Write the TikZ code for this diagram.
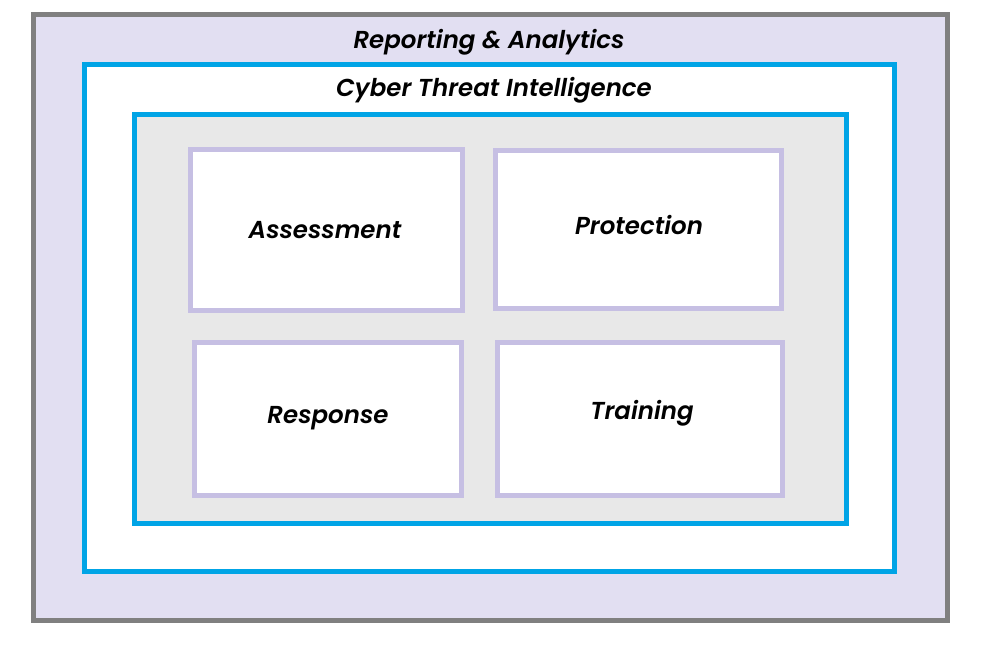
\documentclass[tikz,border=0pt]{standalone}
\usepackage{fontspec}
\setmainfont{Poppins}[ItalicFont=Poppins SemiBold Italic, BoldItalicFont=Poppins Bold Italic]
\definecolor{outerfill}{HTML}{E2DFF2}
\definecolor{outerdraw}{HTML}{808080}
\definecolor{cyan}{HTML}{00A4E6}
\definecolor{innerfill}{HTML}{E8E8E8}
\definecolor{lav}{HTML}{C6BFE3}
\tikzset{
  lbl/.style={font=\fontsize{24.5}{28}\selectfont\itshape, text=black, inner sep=0pt, anchor=base},
  cell/.style={draw=lav, line width=5pt, fill=white}
}
\begin{document}
\begin{tikzpicture}[x=1pt,y=-1pt]
\useasboundingbox (0,0) rectangle (988,648);
\fill[white] (0,0) rectangle (988,648);
\draw[draw=outerdraw, fill=outerfill, line width=5pt] (33.5,14.5) rectangle (947.5,620);
\draw[draw=cyan, fill=white, line width=5pt] (84.5,64.5) rectangle (894.5,571.5);
\draw[draw=cyan, fill=innerfill, line width=5pt] (134.5,114.5) rectangle (846.5,523.5);
\draw[cell] (190.5,149.5) rectangle (462.5,310.5);
\draw[cell] (495.5,150.5) rectangle (781.5,308);
\draw[cell] (194.5,342.5) rectangle (461.5,495.5);
\draw[cell] (497.5,342.5) rectangle (782.5,495);
\node[lbl] (t1) at (489,48) {Reporting \& Analytics};
\node[lbl] (t2) at (494,96) {Cyber Threat Intelligence};
\node[lbl] (a) at (325,238) {Assessment};
\node[lbl] (p) at (639,234) {Protection};
\node[lbl] (r) at (328,423) {Response};
\node[lbl] (t) at (642,419) {Training};
\end{tikzpicture}
\end{document}
